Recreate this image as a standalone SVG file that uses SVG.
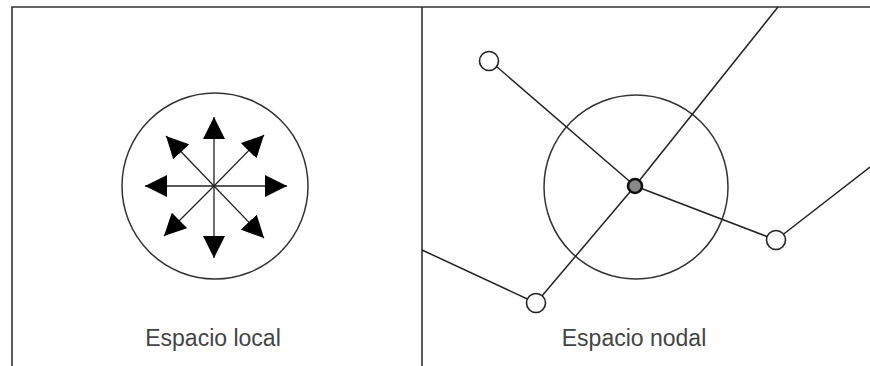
<svg xmlns="http://www.w3.org/2000/svg" width="870" height="366" viewBox="0 0 870 366">
<style>
.frame{stroke:#333;stroke-width:1.6;fill:none}
.ring{stroke:#333;stroke-width:1.5;fill:none}
.edge{stroke:#222;stroke-width:1.5;fill:none}
.arr{stroke:#222;stroke-width:1.3;fill:none;marker-end:url(#ah)}
.open{fill:#fff;stroke:#222;stroke-width:1.6}
.lbl{font-family:"Liberation Sans",Arial,sans-serif;font-size:23px;fill:#444;text-anchor:middle}
</style>
<defs>
<marker id="ah" markerUnits="userSpaceOnUse" markerWidth="22" markerHeight="22" refX="22" refY="11" orient="auto" viewBox="0 0 22 22">
<path d="M0,0 L22,11 L0,22 z" fill="#000"/>
</marker>
</defs>
<rect width="870" height="366" fill="#fff"/>
<g id="frame">
<path class="frame" d="M12,366 V7 H870 M422,7 V366"/>
</g>
<g id="local">
<circle class="ring" cx="215" cy="186" r="93"/>
<g id="arrows">
<line class="arr" x1="214" y1="186" x2="214" y2="117"/>
<line class="arr" x1="214" y1="186" x2="214" y2="258"/>
<line class="arr" x1="214" y1="186" x2="145" y2="186"/>
<line class="arr" x1="214" y1="186" x2="287" y2="186"/>
<line class="arr" x1="214" y1="186" x2="166" y2="136"/>
<line class="arr" x1="214" y1="186" x2="264" y2="135"/>
<line class="arr" x1="214" y1="186" x2="164" y2="236"/>
<line class="arr" x1="214" y1="186" x2="264" y2="238"/>
</g>
<text class="lbl" x="213" y="346">Espacio local</text>
</g>
<g id="nodal">
<circle class="ring" cx="636" cy="187" r="92"/>
<g id="connectors">
<line class="edge" x1="489" y1="60" x2="635" y2="186"/>
<line class="edge" x1="635" y1="186" x2="778" y2="7"/>
<line class="edge" x1="635" y1="186" x2="536" y2="303"/>
<line class="edge" x1="635" y1="186" x2="776" y2="240"/>
<line class="edge" x1="776" y1="240" x2="870" y2="167"/>
<line class="edge" x1="422" y1="250" x2="536" y2="303"/>
</g>
<g id="n1"><circle class="open" cx="489" cy="61" r="9.5"/></g>
<g id="n2"><circle class="open" cx="776" cy="240" r="9.5"/></g>
<g id="n3"><circle class="open" cx="536" cy="303" r="9.5"/></g>
<g id="center"><circle cx="635" cy="186" r="7" fill="#888" stroke="#111" stroke-width="2.6"/></g>
<text class="lbl" x="634" y="346">Espacio nodal</text>
</g>
</svg>
